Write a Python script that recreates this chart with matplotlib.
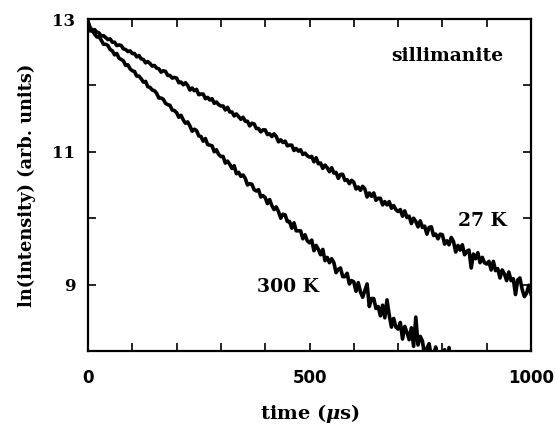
import matplotlib
matplotlib.use("Agg")
import matplotlib.pyplot as plt

plt.rcParams["mathtext.fontset"] = "custom"
plt.rcParams["mathtext.it"] = "DejaVu Serif:italic:bold"
plt.rcParams["mathtext.rm"] = "DejaVu Serif:bold"

# time axis (microseconds), 5 us sampling
t_27K = list(range(0, 1001, 5))
ln_27K = [
    12.95, 12.87, 12.83, 12.84, 12.80, 12.79, 12.74, 12.75, 12.72, 12.69,
    12.70, 12.65, 12.65, 12.60, 12.61, 12.60, 12.55, 12.54, 12.51, 12.52,
    12.48, 12.48, 12.43, 12.45, 12.40, 12.39, 12.34, 12.36, 12.33, 12.29,
    12.30, 12.26, 12.25, 12.20, 12.22, 12.21, 12.15, 12.15, 12.11, 12.12,
    12.11, 12.04, 12.05, 12.01, 12.04, 12.00, 11.93, 11.96, 11.92, 11.94,
    11.86, 11.87, 11.87, 11.80, 11.82, 11.78, 11.80, 11.73, 11.75, 11.71,
    11.69, 11.69, 11.63, 11.67, 11.60, 11.60, 11.54, 11.57, 11.53, 11.49,
    11.52, 11.46, 11.46, 11.39, 11.43, 11.42, 11.35, 11.35, 11.30, 11.33,
    11.33, 11.26, 11.27, 11.23, 11.27, 11.23, 11.15, 11.18, 11.14, 11.16,
    11.09, 11.10, 11.10, 11.02, 11.05, 11.01, 11.03, 10.96, 10.98, 10.94,
    10.92, 10.93, 10.85, 10.91, 10.82, 10.83, 10.75, 10.80, 10.76, 10.70,
    10.76, 10.68, 10.69, 10.60, 10.66, 10.66, 10.57, 10.58, 10.52, 10.57,
    10.54, 10.44, 10.47, 10.42, 10.48, 10.44, 10.32, 10.38, 10.33, 10.38,
    10.27, 10.30, 10.30, 10.20, 10.25, 10.20, 10.25, 10.15, 10.19, 10.13,
    10.10, 10.13, 10.03, 10.11, 10.01, 10.03, 9.92, 10.00, 9.95, 9.87,
    9.96, 9.86, 9.88, 9.76, 9.86, 9.87, 9.74, 9.76, 9.69, 9.76,
    9.75, 9.61, 9.66, 9.60, 9.71, 9.65, 9.49, 9.59, 9.52, 9.60,
    9.45, 9.50, 9.52, 9.25, 9.46, 9.39, 9.48, 9.33, 9.41, 9.33,
    9.31, 9.35, 9.22, 9.35, 9.21, 9.24, 9.10, 9.22, 9.16, 9.06,
    9.19, 9.06, 9.09, 8.85, 9.07, 9.10, 8.93, 8.82, 8.87, 8.99,
    8.86]

t_300K = list(range(0, 841, 5))
ln_300K = [
    12.97, 12.82, 12.83, 12.77, 12.73, 12.73, 12.68, 12.62, 12.62, 12.60,
    12.54, 12.52, 12.46, 12.48, 12.41, 12.39, 12.37, 12.30, 12.31, 12.25,
    12.22, 12.21, 12.14, 12.14, 12.10, 12.05, 12.06, 11.98, 11.97, 11.93,
    11.92, 11.88, 11.81, 11.81, 11.79, 11.73, 11.71, 11.70, 11.63, 11.62,
    11.59, 11.52, 11.55, 11.48, 11.43, 11.45, 11.39, 11.31, 11.34, 11.32,
    11.24, 11.23, 11.16, 11.20, 11.11, 11.10, 11.09, 11.00, 11.03, 10.96,
    10.93, 10.93, 10.83, 10.86, 10.81, 10.75, 10.79, 10.67, 10.69, 10.63,
    10.65, 10.60, 10.50, 10.52, 10.51, 10.43, 10.41, 10.43, 10.32, 10.34,
    10.31, 10.22, 10.28, 10.19, 10.13, 10.17, 10.10, 10.00, 10.06, 10.05,
    9.95, 9.95, 9.85, 9.93, 9.81, 9.81, 9.81, 9.69, 9.75, 9.66,
    9.63, 9.67, 9.51, 9.59, 9.53, 9.45, 9.53, 9.36, 9.41, 9.33,
    9.39, 9.33, 9.18, 9.23, 9.25, 9.12, 9.12, 9.17, 9.01, 9.06,
    9.04, 8.90, 9.03, 8.89, 8.81, 8.91, 9.01, 8.67, 8.79, 8.79,
    8.64, 8.67, 8.53, 8.69, 8.50, 8.77, 8.54, 8.36, 8.49, 8.36,
    8.33, 8.43, 8.18, 8.37, 8.28, 8.17, 8.35, 8.07, 8.51, 8.09,
    8.22, 8.15, 7.92, 8.04, 8.11, 7.91, 7.94, 8.06, 7.81, 7.93,
    7.91, 8.02, 7.71, 8.05, 7.71, 7.84, 7.61, 7.77, 7.66]

x_ticks = [0, 100, 200, 300, 400, 500, 600, 700, 800, 900, 1000]
x_ticklabels = ["0", "", "", "", "", "500", "", "", "", "", "1000"]
y_ticks = [8, 9, 10, 11, 12, 13]
y_ticklabels = ["", "9", "", "11", "", "13"]

fig = plt.figure(figsize=(5.55, 4.32), dpi=100)
ax = fig.add_axes([88 / 555, 1 - 351 / 432, (531 - 88) / 555, (351 - 19) / 432])

ax.plot(t_27K, ln_27K, color="black", lw=2.6)
ax.plot(t_300K, ln_300K, color="black", lw=2.6)

ax.set_xlim(0, 1000)
ax.set_ylim(8, 13)
ax.set_xticks(x_ticks)
ax.set_xticklabels(x_ticklabels, fontfamily="DejaVu Sans", fontweight="bold", fontsize=12)
ax.set_yticks(y_ticks)
ax.set_yticklabels(y_ticklabels, fontfamily="DejaVu Serif", fontweight="bold", fontsize=12)
ax.tick_params(direction="in", length=6, width=1.2, top=True, right=True)
ax.tick_params(axis="x", pad=13)
ax.tick_params(axis="y", pad=9)
for s in ax.spines.values():
    s.set_linewidth(1.6)

ax.set_xlabel("time ($\\mu$s)", fontfamily="DejaVu Serif", fontweight="bold",
              fontsize=14, labelpad=11)
ax.set_ylabel("ln(intensity) (arb. units)", fontfamily="DejaVu Serif",
              fontweight="bold", fontsize=12.75, labelpad=12)

ax.text(810, 12.44, "sillimanite", ha="center", va="center",
        fontfamily="DejaVu Serif", fontweight="bold", fontsize=13.5)
ax.text(890, 9.96, "27 K", ha="center", va="center",
        fontfamily="DejaVu Serif", fontweight="bold", fontsize=13.5)
ax.text(451, 8.96, "300 K", ha="center", va="center",
        fontfamily="DejaVu Serif", fontweight="bold", fontsize=13.5)

fig.savefig("out.png", dpi=100)
